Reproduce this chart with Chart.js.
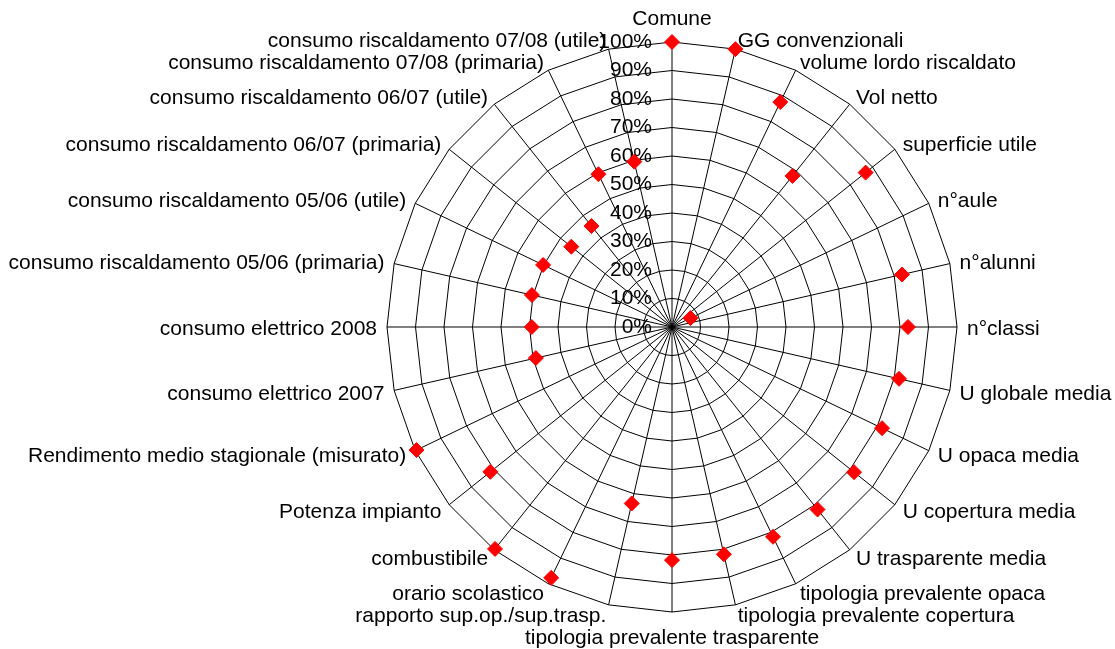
<!DOCTYPE html>
<html>
<head>
<meta charset="utf-8">
<script src="https://cdn.jsdelivr.net/npm/chart.js@4/dist/chart.umd.min.js"></script>
<style>
  body { margin: 0; background: #fff; }
</style>
</head>
<body>
<canvas id="radar" width="1115" height="649"></canvas>
<script>
var categorie = [
  'Comune', 'GG convenzionali', 'volume lordo riscaldato', 'Vol netto',
  'superficie utile', 'n\u00b0aule', 'n\u00b0alunni', 'n\u00b0classi',
  'U globale media', 'U opaca media', 'U copertura media', 'U trasparente media',
  'tipologia prevalente opaca', 'tipologia prevalente copertura',
  'tipologia prevalente trasparente', 'rapporto sup.op./sup.trasp.',
  'orario scolastico', 'combustibile', 'Potenza impianto',
  'Rendimento medio stagionale (misurato)', 'consumo elettrico 2007',
  'consumo elettrico 2008', 'consumo riscaldamento 05/06 (primaria)',
  'consumo riscaldamento 05/06 (utile)', 'consumo riscaldamento 06/07 (primaria)',
  'consumo riscaldamento 06/07 (utile)', 'consumo riscaldamento 07/08 (primaria)',
  'consumo riscaldamento 07/08 (utile)'
];

var valori = [100, 100, 87.6, 67.8, 86.9, 7.2, 82.8, 82.8, 81.7, 81.8, 81.7, 81.9,
  81.7, 81.8, 81.8, 63.5, 97.7, 99.6, 81.5, 99.5, 49, 49.2, 50.4, 50.2,
  45.2, 45.3, 59.5, 59.5];

var tickLabels = ['0%', '10%', '20%', '30%', '40%', '50%', '60%', '70%', '80%', '90%', '100%'];

var font = '21px "Liberation Sans", Arial, sans-serif';

// etichette disegnate a mano: Chart.js le centra sull'asse e restringe troppo il raggio
var etichette = {
  id: 'etichette',
  beforeDatasetsDraw: function(chart) {
    var scale = chart.scales.r;
    var ctx = chart.ctx;
    ctx.save();
    ctx.font = font;
    ctx.fillStyle = '#000';

    // tick a sinistra dell'asse verticale
    ctx.textAlign = 'right';
    ctx.textBaseline = 'middle';
    scale.ticks.forEach(function(t) {
      var d = scale.getDistanceFromCenterForValue(t.value);
      ctx.fillText(t.label, scale.xCenter - 20, scale.yCenter - d);
    });

    // nomi delle categorie
    ctx.textBaseline = 'alphabetic';
    for (var i = 0; i < categorie.length; i++) {
      var p = scale.getPointPosition(i, scale.drawingArea + 10);
      var c = Math.cos(p.angle), s = Math.sin(p.angle);
      var y = p.y + 7.5;
      if (Math.abs(c) < 0.01) {
        ctx.textAlign = 'center';
        y = s < 0 ? p.y - 7 : p.y + 22;
      } else {
        ctx.textAlign = c > 0 ? 'left' : 'right';
      }
      ctx.fillText(categorie[i], p.x, y);
    }
    ctx.restore();
  }
};

new Chart(document.getElementById('radar'), {
  type: 'radar',
  data: {
    labels: categorie,
    datasets: [{
      data: valori,
      showLine: false,
      fill: false,
      borderColor: 'transparent',
      pointStyle: 'rectRot',
      pointRadius: 7.5,
      pointBackgroundColor: '#ff0000',
      pointBorderColor: '#ff0000',
      pointBorderWidth: 1
    }]
  },
  options: {
    responsive: false,
    devicePixelRatio: 1,
    animation: false,
    events: [],
    layout: { padding: { left: 387, right: 158, top: 42, bottom: 37 } },
    plugins: { legend: { display: false }, tooltip: { enabled: false } },
    scales: {
      r: {
        min: 0,
        max: 100,
        ticks: {
          stepSize: 10,
          display: false,
          callback: function(v, i) { return tickLabels[i]; }
        },
        grid: { color: '#000', lineWidth: 1 },
        angleLines: { color: '#000', lineWidth: 1 },
        pointLabels: { display: false }
      }
    }
  },
  plugins: [etichette]
});
</script>
</body>
</html>
